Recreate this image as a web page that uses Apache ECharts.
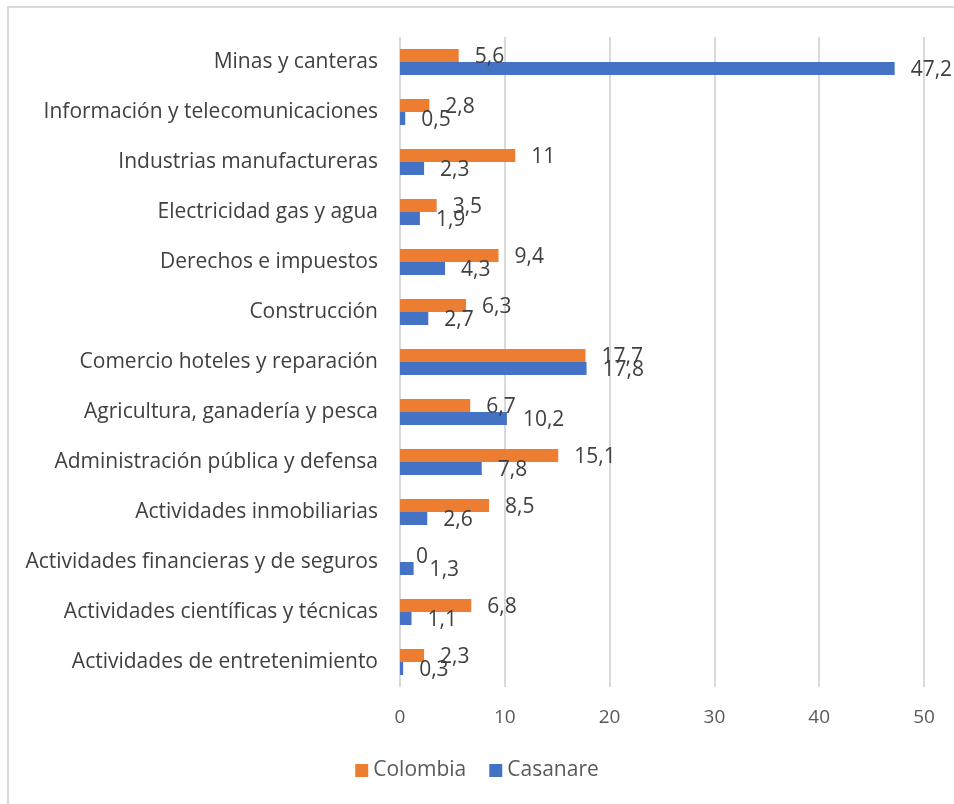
<!DOCTYPE html>
<html>
<head>
<meta charset="utf-8">
<script src="https://cdn.jsdelivr.net/npm/echarts@6/dist/echarts.min.js"></script>
<style>
  html, body { margin: 0; padding: 0; background: #fff; }
  #chart { width: 954px; height: 804px; }
</style>
</head>
<body>
<div id="chart"></div>
<script>
var categories = [
  "Minas y canteras",
  "Información y telecomunicaciones",
  "Industrias manufactureras",
  "Electricidad gas y agua",
  "Derechos e impuestos",
  "Construcción",
  "Comercio hoteles y reparación",
  "Agricultura, ganadería y pesca",
  "Administración pública y defensa",
  "Actividades inmobiliarias",
  "Actividades financieras y de seguros",
  "Actividades científicas y técnicas",
  "Actividades de entretenimiento"
];
var colombia = [5.6, 2.8, 11, 3.5, 9.4, 6.3, 17.7, 6.7, 15.1, 8.5, 0, 6.8, 2.3];
var casanare = [47.2, 0.5, 2.3, 1.9, 4.3, 2.7, 17.8, 10.2, 7.8, 2.6, 1.3, 1.1, 0.3];

var font = "'Open Sans', 'Liberation Sans', sans-serif";

function coma(p) {
  return String(p.value).replace(".", ",");
}

var chart = echarts.init(document.getElementById("chart"));
chart.setOption({
  animation: false,
  textStyle: { fontFamily: font },
  graphic: [{
    type: "rect",
    shape: { x: 8, y: 7, width: 1000, height: 900 },
    style: { fill: "none", stroke: "#d9d9d9", lineWidth: 2 }
  }],
  grid: { left: 400, right: 30, top: 37, bottom: 117 },
  legend: {
    bottom: 18,
    left: "center",
    itemWidth: 13,
    itemHeight: 13,
    itemGap: 23,
    icon: "rect",
    textStyle: { fontSize: 21, color: "#595959", fontFamily: font },
    data: ["Colombia", "Casanare"]
  },
  xAxis: {
    type: "value",
    min: 0,
    max: 50,
    interval: 10,
    axisLine: { show: false },
    axisTick: { show: false },
    axisLabel: { fontSize: 19, color: "#595959", margin: 21, fontFamily: font },
    splitLine: { lineStyle: { color: "#d9d9d9", width: 2 } }
  },
  yAxis: {
    type: "category",
    inverse: true,
    data: categories,
    axisLine: { show: false },
    axisTick: { show: false },
    axisLabel: { fontSize: 21, color: "#404040", margin: 22, fontFamily: font }
  },
  series: [
    {
      name: "Colombia",
      type: "bar",
      data: colombia,
      barWidth: 13,
      barGap: "0%",
      barCategoryGap: "48%",
      itemStyle: { color: "#ED7D31" },
      label: {
        show: true, position: "right", distance: 16, offset: [0, 2],
        fontSize: 21, color: "#404040", fontFamily: font, formatter: coma
      }
    },
    {
      name: "Casanare",
      type: "bar",
      data: casanare,
      barWidth: 13,
      barGap: "0%",
      barCategoryGap: "48%",
      itemStyle: { color: "#4472C4" },
      label: {
        show: true, position: "right", distance: 16, offset: [0, 2],
        fontSize: 21, color: "#404040", fontFamily: font, formatter: coma
      }
    }
  ]
});
</script>
</body>
</html>
